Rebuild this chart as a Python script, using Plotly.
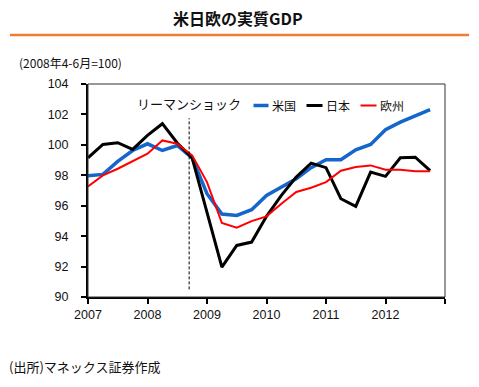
import plotly.graph_objects as go

# ---- data (2008Q2 = 100) ----
QUARTERS = [f"{y}Q{q}" for y in range(2007, 2013) for q in range(1, 5)]
US = [97.97, 98.06, 98.91, 99.63, 100.07, 99.63, 99.96, 99.15,
      96.79, 95.45, 95.36, 95.74, 96.68, 97.22, 97.77, 98.50,
      99.02, 99.02, 99.68, 100.03, 100.99, 101.49, 101.87, 102.31]
JAPAN = [99.15, 100.03, 100.14, 99.70, 100.62, 101.39, 100.12, 99.14,
         95.56, 91.97, 93.39, 93.61, 95.30, 96.68, 97.88, 98.80,
         98.50, 96.46, 95.96, 98.21, 97.93, 99.15, 99.19, 98.30]
EUROPE = [97.27, 97.99, 98.43, 98.91, 99.42, 100.29, 100.07, 99.31,
          97.55, 94.86, 94.55, 94.99, 95.30, 96.13, 96.90, 97.18,
          97.55, 98.30, 98.54, 98.65, 98.37, 98.37, 98.27, 98.27]
SERIES_NAMES = ["米国", "日本", "欧州"]
YEAR_TICKS = [2007, 2008, 2009, 2010, 2011, 2012, 2013]
YEAR_LABELS = ["2007", "2008", "2009", "2010", "2011", "2012", ""]
Y_TICKS = [90, 92, 94, 96, 98, 100, 102, 104]
LEHMAN_X = 2008.70
LEHMAN_LABEL = "リーマンショック"
TITLE = "米日欧の実質GDP"
SUBTITLE = "(2008年4-6月=100)"
SOURCE = "(出所)マネックス証券作成"

x = [int(s[:4]) + (int(s[-1]) - 1) / 4 for s in QUARTERS]

W, H = 479, 387
ML, MR, MT, MB = 88, 34, 84, 90
PW, PH = W - ML - MR, H - MT - MB


def px(v):
    return (v - ML) / PW


def py(v):
    return (H - MB - v) / PH


JP = "Noto Sans CJK JP"
NUM = "Liberation Sans"
colors = ["#1466CC", "#000000", "#FF0000"]
widths = [3.5, 3, 2]

fig = go.Figure()
for name, vals, c, w in zip(SERIES_NAMES, [US, JAPAN, EUROPE], colors, widths):
    fig.add_trace(go.Scatter(x=x, y=vals, mode="lines", name=name,
                             line=dict(color=c, width=w), showlegend=False,
                             hoverinfo="skip"))

shapes = [
    # frame
    dict(type="rect", xref="paper", yref="paper", x0=0, x1=1, y0=0, y1=1,
         line=dict(color="#333333", width=1)),
    # lehman line
    dict(type="line", xref="x", yref="y", x0=LEHMAN_X, x1=LEHMAN_X, y0=90.5, y1=101.75,
         line=dict(color="#000000", width=1, dash="3px,2px")),
    # orange rule under title
    dict(type="line", xref="paper", yref="paper", x0=px(10), x1=px(469), y0=py(35), y1=py(35),
         line=dict(color="#ED7D31", width=2.5)),
]
annotations = [
    dict(text=f"<b>{TITLE}</b>", xref="paper", yref="paper", x=px(238), y=py(18),
         xanchor="center", yanchor="middle", showarrow=False,
         font=dict(family=JP, size=16, color="#111111")),
    dict(text=SUBTITLE, xref="paper", yref="paper", x=px(17), y=py(62),
         xanchor="left", yanchor="middle", showarrow=False,
         font=dict(family=JP, size=12, color="#111111")),
    dict(text=SOURCE, xref="paper", yref="paper", x=px(7), y=py(366),
         xanchor="left", yanchor="middle", showarrow=False,
         font=dict(family=JP, size=13, color="#111111")),
    dict(text=LEHMAN_LABEL, xref="x", yref="y", x=LEHMAN_X, y=102.72,
         xanchor="center", yanchor="middle", showarrow=False,
         font=dict(family=JP, size=13, color="#111111")),
]
# manual legend
leg = [(253.5, 268.5, 270), (306.5, 322.5, 324), (360.5, 376.5, 378)]
for (a, b, t), name, c, w in zip(leg, SERIES_NAMES, colors, widths):
    shapes.append(dict(type="line", xref="paper", yref="paper", x0=px(a), x1=px(b),
                       y0=py(105.5), y1=py(105.5), line=dict(color=c, width=w)))
    annotations.append(dict(text=name, xref="paper", yref="paper", x=px(t), y=py(105),
                            xanchor="left", yanchor="middle", showarrow=False,
                            font=dict(family=JP, size=12, color="#111111")))

fig.update_layout(
    width=W, height=H, margin=dict(l=ML, r=MR, t=MT, b=MB),
    paper_bgcolor="white", plot_bgcolor="white",
    shapes=shapes, annotations=annotations,
    xaxis=dict(range=[2007, 2013], tickvals=YEAR_TICKS, ticktext=YEAR_LABELS,
               ticks="outside", ticklen=5, tickwidth=1.5, tickcolor="black",
               showline=True, linecolor="black", linewidth=2, showgrid=False, zeroline=False,
               tickfont=dict(family=NUM, size=12.5, color="#111111")),
    yaxis=dict(range=[90, 104], tickvals=Y_TICKS, ticks="outside", ticklen=5,
               tickwidth=1.5, tickcolor="black",
               showline=True, linecolor="black", linewidth=2, showgrid=False, zeroline=False,
               ticklabelstandoff=10,
               tickfont=dict(family=NUM, size=12.5, color="#111111")),
)
fig.write_html("out.html", config={"displayModeBar": False},
               post_script="document.body.style.margin='0';document.body.style.overflow='hidden';")
